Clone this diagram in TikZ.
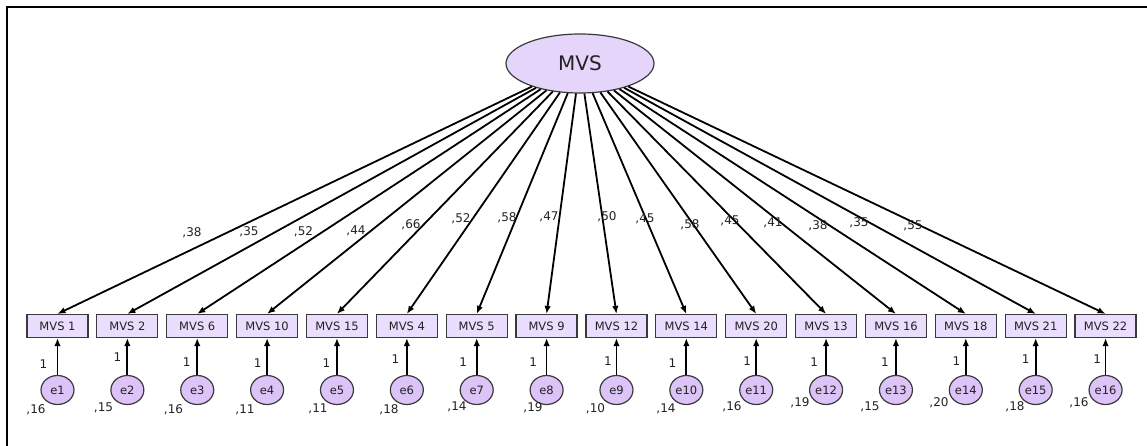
\documentclass[tikz,border=0pt]{standalone}
\usepackage{fontspec}
\setmainfont{DejaVu Sans}
\usetikzlibrary{shapes.geometric,arrows.meta}
\definecolor{boxfill}{HTML}{EBDDFD}
\definecolor{latfill}{HTML}{E6D5FB}
\definecolor{errfill}{HTML}{DCC4F8}
\definecolor{edgecol}{HTML}{3A3A3A}
\definecolor{txt}{HTML}{222222}
\begin{document}
\begin{tikzpicture}[x=1pt,y=-1pt,
  obs/.style={draw=edgecol,fill=boxfill,line width=1.2pt,minimum width=61pt,minimum height=23pt,inner sep=0pt,text=txt,font=\fontsize{11.5}{13}\selectfont},
  err/.style={ellipse,draw=edgecol,fill=errfill,line width=1.2pt,minimum width=33pt,minimum height=29pt,inner sep=0pt,text=txt,font=\fontsize{11.5}{13}\selectfont},
  lat/.style={ellipse,draw=edgecol,fill=latfill,line width=1.2pt,minimum width=148pt,minimum height=59pt,inner sep=0pt,text=txt,font=\fontsize{20}{24}\selectfont},
  conn/.style={line width=1.8pt,-{Latex[length=8pt,width=6.5pt]}},
  numlab/.style={inner sep=0pt,text=txt,font=\fontsize{12}{13}\selectfont}]
\useasboundingbox (0,0) rectangle (1147,446);
\draw[line width=2.3pt] (7,446) -- (7,7) -- (1147,7);
\node[lat] (mvs) at (580,63.5) {MVS};
\foreach \i/\nm/\ld/\lx/\ly/\vr/\vx/\vy/\ox/\oy in {
 1/MVS 1/{,38}/192/233/{,16}/36/410/-14/364,
 2/MVS 2/{,35}/249/232/{,15}/103.5/408/-10/357,
 3/MVS 6/{,52}/303.5/232/{,16}/173.5/410/-10.5/362,
 4/MVS 10/{,44}/356/231/{,11}/245/410/-9.5/363,
 5/MVS 15/{,66}/411/225/{,11}/318/409/-10.5/363,
 6/MVS 4/{,52}/461/219/{,18}/389/410/-11.5/359,
 7/MVS 5/{,58}/507/218/{,14}/457/407/-13.5/362,
 8/MVS 9/{,47}/549/217/{,19}/533/408/-13.5/362,
 9/MVS 12/{,50}/607/217/{,10}/595.5/409/-8.5/361,
 10/MVS 14/{,45}/645/219/{,14}/666/409/-14/363,
 11/MVS 20/{,58}/690/225/{,16}/732/407/-9/361,
 12/MVS 13/{,45}/730/221/{,19}/800/403/-12/362,
 13/MVS 16/{,41}/773/223/{,15}/870/407/-11/362,
 14/MVS 18/{,38}/818/226/{,20}/939/403/-9.5/361,
 15/MVS 21/{,35}/859/223/{,18}/1015/407/-10/359,
 16/MVS 22/{,55}/913/226/{,16}/1079/403/-8.5/359}{
  \pgfmathsetmacro\xx{57.5+69.87*(\i-1)}
  \node[obs] (b\i) at (\xx,326) {\nm};
  \node[err] (e\i) at (\xx,390) {e\i};
  \draw[conn] (mvs) -- (b\i.north);
  \draw[conn] (e\i) -- (b\i);
  \node[numlab] (l\i) at (\lx,\ly) {\ld};
  \node[numlab] (v\i) at (\vx,\vy) {\vr};
  \node[numlab] (o\i) at (\xx+\ox,\oy) {1};
}
\end{tikzpicture}
\end{document}
